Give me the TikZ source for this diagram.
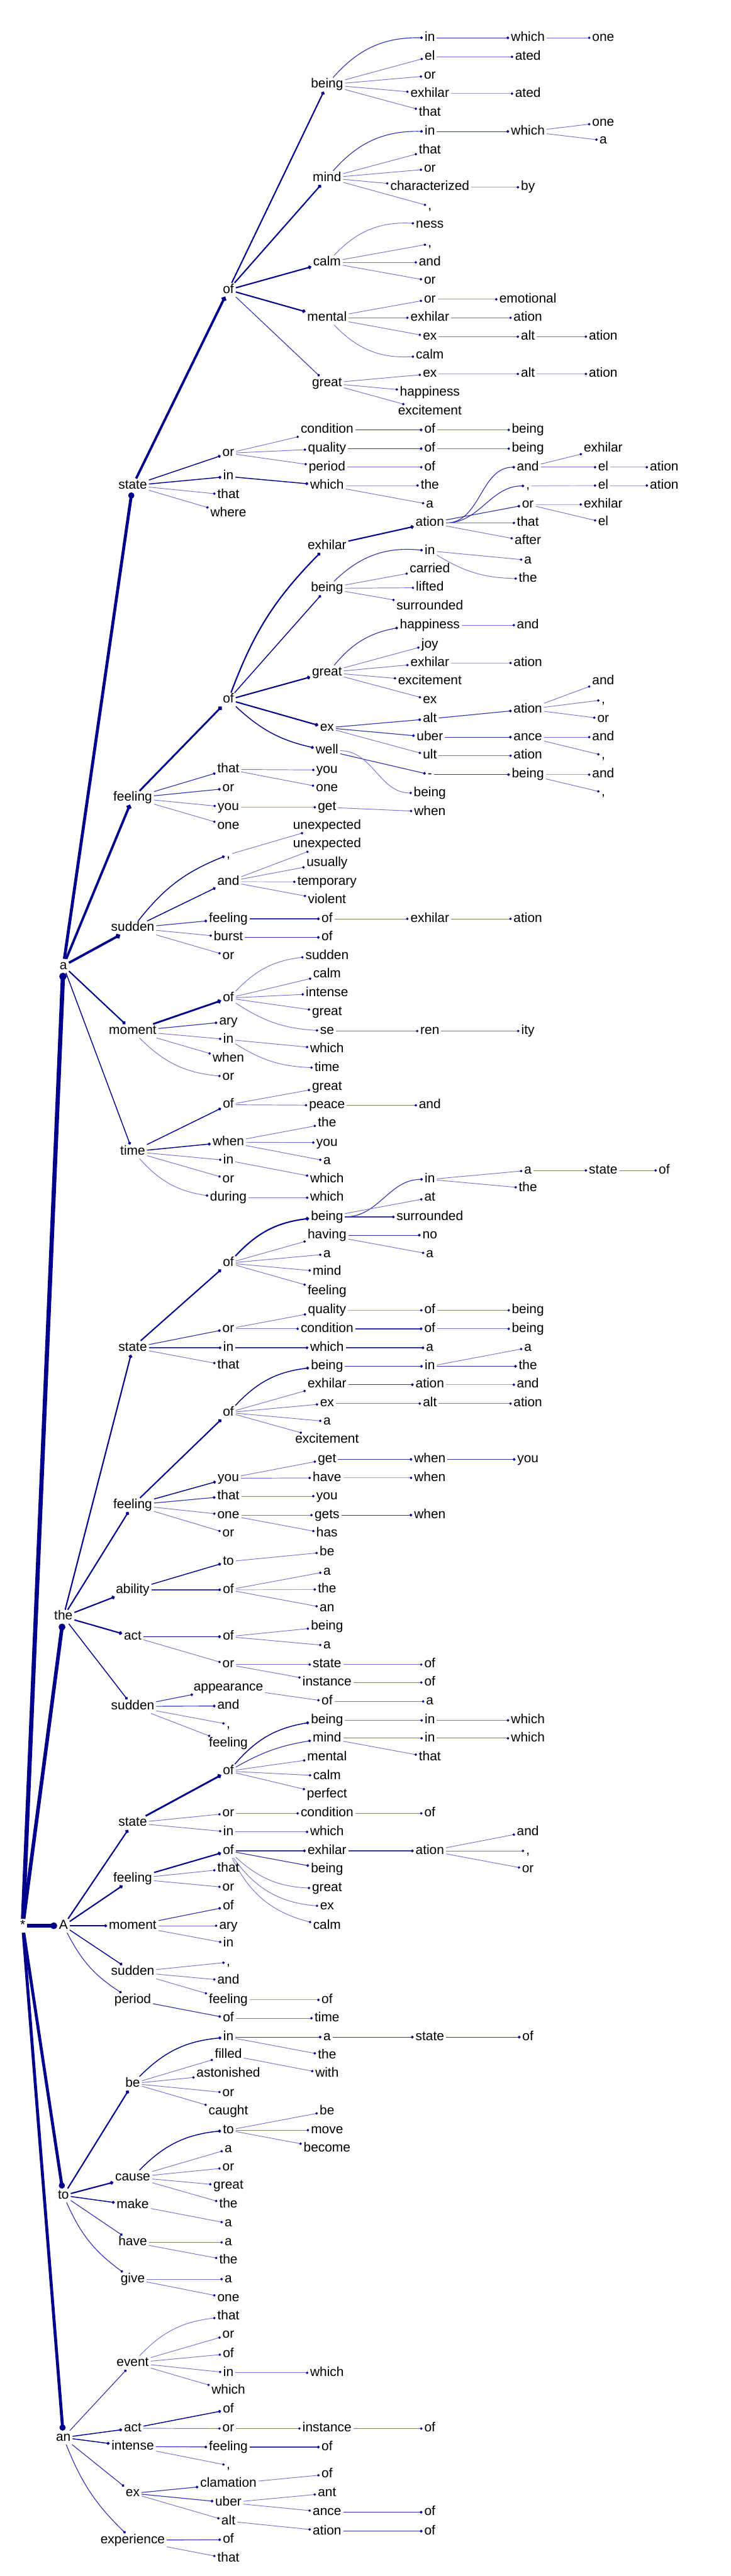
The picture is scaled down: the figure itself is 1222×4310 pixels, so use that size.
\documentclass[tikz,border=0pt]{standalone}
\usepackage{fontspec}
\setmainfont{Liberation Sans}
\usetikzlibrary{arrows.meta}
\definecolor{nv}{RGB}{0,0,139}
\definecolor{md}{RGB}{50,50,175}
\definecolor{lt}{RGB}{115,115,210}
\definecolor{llt}{RGB}{160,160,228}
\tikzset{
 wd/.style={font=\fontsize{22}{26}\selectfont, text height=16pt, text depth=5pt, inner xsep=3pt, inner ysep=1pt, anchor=center, text=black},
 Wseven/.style={line width=7pt, draw=nv, -{Circle[length=12pt,color=nv]}},
 Wsix/.style={line width=6pt, draw=nv, -{Circle[length=11pt,color=nv]}},
 Wfive/.style={line width=5pt, draw=nv, -{Circle[length=10pt,color=nv]}},
 Wfour/.style={line width=4pt, draw=nv, -{Circle[length=8pt,color=nv]}},
 Athree/.style={line width=3pt, draw=nv, -{Circle[length=7pt,color=nv]}},
 Atwo/.style={line width=2.2pt, draw=nv, -{Circle[length=6pt,color=nv]}},
 Aone/.style={line width=1.5pt, draw=nv, -{Circle[length=5pt,color=nv]}},
 B/.style={line width=1.2pt, draw=md, -{Circle[length=4.5pt,color=nv]}},
 C/.style={line width=1pt, draw=lt, -{Circle[length=4pt,color=nv]}},
 D/.style={line width=1pt, draw=llt, -{Circle[length=4pt,color=nv]}},
}
\newcommand\Nd[4]{\node[wd] (#1) at (#2,#3) {#4};}
\newcommand\Lk[3]{\draw[#1] (#2) -- (#3);}
\newcommand\Cv[4]{\draw[#1] (#2) to[#4] (#3);}
\begin{document}
\begin{tikzpicture}[x=1pt,y=-1pt]
\useasboundingbox (0,0) rectangle (1222,4310);
% root
\Nd{r}{38}{3222}{*}
\Nd{na}{106}{1616}{a}
\Nd{nthe}{106}{2705}{the}
\Nd{nA}{106}{3222}{A}
\Nd{nto}{106}{3673.3}{to}
\Nd{nan}{106}{4078.3}{an}
\Lk{Wseven}{r}{na}
\Lk{Wsix}{r}{nthe}
\Lk{Wsix}{r}{nA}
\Lk{Wfive}{r}{nto}
\Lk{Wfive}{r}{nan}
% ---- a
\Nd{s1}{222}{812.3}{state} \Lk{Wfive}{na}{s1}
\Nd{f1}{222}{1335}{feeling} \Lk{Wfour}{na}{f1}
\Nd{su}{222}{1552.7}{sudden} \Lk{Wfour}{na}{su}
\Nd{mo}{222}{1725}{moment} \Lk{Atwo}{na}{mo}
\Nd{ti}{222}{1926.7}{time} \Lk{Aone}{na}{ti}
% state
\Nd{s1o}{382}{485}{of} \Lk{Wfour}{s1}{s1o}
\Nd{s1ob}{547}{141.7}{being} \Lk{Atwo}{s1o}{s1ob}
\Nd{s1om}{547}{297.7}{mind} \Lk{Atwo}{s1o}{s1om}
\Nd{s1oc}{547}{439}{calm} \Lk{Atwo}{s1o}{s1oc}
\Nd{s1oe}{547}{531.7}{mental} \Lk{Atwo}{s1o}{s1oe}
\Nd{s1og}{547}{641}{great} \Lk{B}{s1o}{s1og}
\Nd{b1}{719}{63.3}{in} \Cv{B}{s1ob}{b1}{bend left=25}
\Nd{b1w}{883}{63.3}{which} \Lk{B}{b1}{b1w}
\Nd{b1wo}{1009}{63.3}{one} \Lk{C}{b1w}{b1wo}
\Nd{b2}{719}{95}{el} \Lk{C}{s1ob}{b2}
\Nd{b2a}{883}{95}{ated} \Lk{C}{b2}{b2a}
\Nd{b3}{719}{126.7}{or} \Lk{C}{s1ob}{b3}
\Nd{b4}{719}{156.7}{exhilar} \Lk{C}{s1ob}{b4}
\Nd{b4a}{883}{156.7}{ated} \Lk{D}{b4}{b4a}
\Nd{b5}{719}{188.3}{that} \Lk{C}{s1ob}{b5}
\Nd{m1}{719}{220}{in} \Cv{B}{s1om}{m1}{bend left=25}
\Nd{m1w}{883}{220}{which} \Lk{B}{m1}{m1w}
\Nd{m1wo}{1009}{205}{one} \Lk{C}{m1w}{m1wo}
\Nd{m1wa}{1009}{235}{a} \Lk{C}{m1w}{m1wa}
\Nd{m2}{719}{251.7}{that} \Lk{C}{s1om}{m2}
\Nd{m3}{719}{282.7}{or} \Lk{C}{s1om}{m3}
\Nd{m4}{719}{313.3}{characterized} \Lk{C}{s1om}{m4}
\Nd{m4b}{883}{313.3}{by} \Lk{D}{m4}{m4b}
\Nd{m5}{719}{345}{,} \Lk{C}{s1om}{m5}
\Nd{c1}{719}{376}{ness} \Cv{C}{s1oc}{c1}{bend left=25}
\Nd{c2}{719}{408}{,} \Lk{C}{s1oc}{c2}
\Nd{c3}{719}{439}{and} \Lk{C}{s1oc}{c3}
\Nd{c4}{719}{470}{or} \Lk{C}{s1oc}{c4}
\Nd{e1}{719}{500.7}{or} \Lk{C}{s1oe}{e1}
\Nd{e1e}{883}{500.7}{emotional} \Lk{D}{e1}{e1e}
\Nd{e2}{719}{531.7}{exhilar} \Lk{C}{s1oe}{e2}
\Nd{e2a}{883}{531.7}{ation} \Lk{C}{e2}{e2a}
\Nd{e3}{719}{563.3}{ex} \Lk{C}{s1oe}{e3}
\Nd{e3a}{883}{563.3}{alt} \Lk{C}{e3}{e3a}
\Nd{e3aa}{1009}{563.3}{ation} \Lk{C}{e3a}{e3aa}
\Nd{e4}{719}{594.3}{calm} \Cv{C}{s1oe}{e4}{bend right=25}
\Nd{g1}{719}{625.7}{ex} \Lk{C}{s1og}{g1}
\Nd{g1a}{883}{625.7}{alt} \Lk{D}{g1}{g1a}
\Nd{g1aa}{1009}{625.7}{ation} \Lk{D}{g1a}{g1aa}
\Nd{g2}{719}{656.7}{happiness} \Lk{C}{s1og}{g2}
\Nd{g3}{719}{688.3}{excitement} \Lk{C}{s1og}{g3}
\Nd{s1r}{382}{758.3}{or} \Lk{Aone}{s1}{s1r}
\Nd{r1}{547}{719.3}{condition} \Lk{C}{s1r}{r1}
\Nd{r1o}{719}{719.3}{of} \Lk{B}{r1}{r1o}
\Nd{r1ob}{883}{719.3}{being} \Lk{C}{r1o}{r1ob}
\Nd{r2}{547}{750.7}{quality} \Lk{C}{s1r}{r2}
\Nd{r2o}{719}{750.7}{of} \Lk{B}{r2}{r2o}
\Nd{r2ob}{883}{750.7}{being} \Lk{C}{r2o}{r2ob}
\Nd{r3}{547}{781.7}{period} \Lk{C}{s1r}{r3}
\Nd{r3o}{719}{781.7}{of} \Lk{C}{r3}{r3o}
\Nd{s1i}{382}{797.3}{in} \Lk{Aone}{s1}{s1i}
\Nd{s1iw}{547}{812.3}{which} \Lk{Aone}{s1i}{s1iw}
\Nd{s1iwt}{719}{812.3}{the} \Lk{D}{s1iw}{s1iwt}
\Nd{s1iwa}{719}{844}{a} \Lk{C}{s1iw}{s1iwa}
\Nd{s1t}{382}{828.3}{that} \Lk{C}{s1}{s1t}
\Nd{s1w}{382}{859.3}{where} \Lk{C}{s1}{s1w}
% feeling
\Nd{f1o}{382}{1170.7}{of} \Lk{Athree}{f1}{f1o}
\Nd{fx}{547}{913.3}{exhilar} \Cv{Atwo}{f1o}{fx}{bend left=12}
\Nd{fxa}{719}{875}{ation} \Lk{Atwo}{fx}{fxa}
\Nd{fxa1}{883}{781.7}{and} \Cv{B}{fxa}{fxa1}{out=0,in=180}
\Nd{fxa1e}{1009}{750.7}{exhilar} \Lk{C}{fxa1}{fxa1e}
\Nd{fxa1l}{1009}{781.7}{el} \Lk{C}{fxa1}{fxa1l}
\Nd{fxa1la}{1111}{781.7}{ation} \Lk{D}{fxa1l}{fxa1la}
\Nd{fxa2}{883}{813}{,} \Cv{B}{fxa}{fxa2}{out=0,in=180}
\Nd{fxa2l}{1009}{812.3}{el} \Lk{D}{fxa2}{fxa2l}
\Nd{fxa2la}{1111}{812.3}{ation} \Lk{D}{fxa2l}{fxa2la}
\Nd{fxa3}{883}{844}{or} \Lk{B}{fxa}{fxa3}
\Nd{fxa3e}{1009}{844}{exhilar} \Lk{D}{fxa3}{fxa3e}
\Nd{fxa3l}{1009}{874}{el} \Lk{C}{fxa3}{fxa3l}
\Nd{fxa4}{883}{875}{that} \Lk{C}{fxa}{fxa4}
\Nd{fxa5}{883}{905.7}{after} \Lk{C}{fxa}{fxa5}
\Nd{fb}{547}{984.3}{being} \Lk{Aone}{f1o}{fb}
\Nd{fb1}{719}{921.7}{in} \Cv{B}{fb}{fb1}{bend left=25}
\Nd{fb1a}{883}{937.3}{a} \Lk{C}{fb1}{fb1a}
\Nd{fb1t}{883}{968.3}{the} \Cv{C}{fb1}{fb1t}{bend right=15}
\Nd{fb2}{719}{952.7}{carried} \Lk{C}{fb}{fb2}
\Nd{fb3}{719}{983.3}{lifted} \Lk{C}{fb}{fb3}
\Nd{fb4}{719}{1014.3}{surrounded} \Lk{C}{fb}{fb4}
\Nd{fg}{547}{1125}{great} \Lk{Atwo}{f1o}{fg}
\Nd{fg1}{719}{1046}{happiness} \Cv{B}{fg}{fg1}{bend left=20}
\Nd{fg1a}{883}{1046}{and} \Lk{C}{fg1}{fg1a}
\Nd{fg2}{719}{1078.3}{joy} \Lk{C}{fg}{fg2}
\Nd{fg3}{719}{1109.3}{exhilar} \Lk{C}{fg}{fg3}
\Nd{fg3a}{883}{1109.3}{ation} \Lk{D}{fg3}{fg3a}
\Nd{fg4}{719}{1140}{excitement} \Lk{C}{fg}{fg4}
\Nd{fg5}{719}{1171}{ex} \Lk{C}{fg}{fg5}
\Nd{fe}{547}{1217.7}{ex} \Lk{Atwo}{f1o}{fe}
\Nd{fe1}{719}{1202.7}{alt} \Lk{B}{fe}{fe1}
\Nd{fe1a}{883}{1186.7}{ation} \Lk{B}{fe1}{fe1a}
\Nd{fe1a1}{1009}{1140}{and} \Lk{C}{fe1a}{fe1a1}
\Nd{fe1a2}{1009}{1171}{,} \Lk{C}{fe1a}{fe1a2}
\Nd{fe1a3}{1009}{1202.7}{or} \Lk{C}{fe1a}{fe1a3}
\Nd{fe2}{719}{1233.3}{uber} \Lk{B}{fe}{fe2}
\Nd{fe2a}{883}{1233.3}{ance} \Lk{B}{fe2}{fe2a}
\Nd{fe2a1}{1009}{1233.3}{and} \Lk{C}{fe2a}{fe2a1}
\Nd{fe2a2}{1009}{1264}{,} \Lk{C}{fe2a}{fe2a2}
\Nd{fe3}{719}{1264.3}{ult} \Lk{C}{fe}{fe3}
\Nd{fe3a}{883}{1264.3}{ation} \Lk{C}{fe3}{fe3a}
\Nd{fw}{547}{1256}{well} \Cv{Aone}{f1o}{fw}{bend right=15}
\Nd{fw1}{719}{1296}{-} \Lk{B}{fw}{fw1}
\Nd{fw1b}{883}{1296}{being} \Lk{B}{fw1}{fw1b}
\Nd{fw1b1}{1009}{1296}{and} \Lk{D}{fw1b}{fw1b1}
\Nd{fw1b2}{1009}{1326}{,} \Lk{C}{fw1b}{fw1b2}
\Nd{fw2}{719}{1326.7}{being} \Cv{C}{fw}{fw2}{out=0,in=180}
\Nd{f1t}{382}{1287.3}{that} \Lk{B}{f1}{f1t}
\Nd{f1ty}{547}{1288.3}{you} \Lk{C}{f1t}{f1ty}
\Nd{f1to}{547}{1319}{one} \Lk{C}{f1t}{f1to}
\Nd{f1r}{382}{1319}{or} \Lk{B}{f1}{f1r}
\Nd{f1y}{382}{1350.7}{you} \Lk{C}{f1}{f1y}
\Nd{f1yg}{547}{1350.7}{get} \Lk{D}{f1y}{f1yg}
\Nd{f1ygw}{719}{1358.3}{when} \Lk{C}{f1yg}{f1ygw}
\Nd{f1n}{382}{1381.7}{one} \Lk{C}{f1}{f1n}
% sudden
\Nd{su1}{382}{1430}{,} \Cv{Aone}{su}{su1}{bend left=15}
\Nd{su1u}{547}{1381.7}{unexpected} \Lk{C}{su1}{su1u}
\Nd{su2}{382}{1475}{and} \Lk{Aone}{su}{su2}
\Nd{su2u}{547}{1412.7}{unexpected} \Lk{C}{su2}{su2u}
\Nd{su2s}{547}{1443.7}{usually} \Lk{C}{su2}{su2s}
\Nd{su2t}{547}{1475.7}{temporary} \Lk{D}{su2}{su2t}
\Nd{su2v}{547}{1506}{violent} \Lk{C}{su2}{su2v}
\Nd{su3}{382}{1537.3}{feeling} \Lk{B}{su}{su3}
\Nd{su3o}{547}{1537.3}{of} \Lk{B}{su3}{su3o}
\Nd{su3ox}{719}{1537.3}{exhilar} \Lk{C}{su3o}{su3ox}
\Nd{su3oxa}{883}{1537.3}{ation} \Lk{C}{su3ox}{su3oxa}
\Nd{su4}{382}{1568.3}{burst} \Lk{C}{su}{su4}
\Nd{su4o}{547}{1568.3}{of} \Lk{B}{su4}{su4o}
\Nd{su5}{382}{1599.3}{or} \Lk{C}{su}{su5}
% moment
\Nd{mo1}{382}{1670}{of} \Lk{Athree}{mo}{mo1}
\Nd{mo1a}{547}{1599.3}{sudden} \Cv{C}{mo1}{mo1a}{bend left=20}
\Nd{mo1b}{547}{1630.7}{calm} \Lk{C}{mo1}{mo1b}
\Nd{mo1c}{547}{1661.7}{intense} \Lk{C}{mo1}{mo1c}
\Nd{mo1d}{547}{1693.3}{great} \Lk{C}{mo1}{mo1d}
\Nd{mo1e}{547}{1725}{se} \Cv{C}{mo1}{mo1e}{bend right=15}
\Nd{mo1er}{719}{1725}{ren} \Lk{C}{mo1e}{mo1er}
\Nd{mo1eri}{883}{1725}{ity} \Lk{C}{mo1er}{mo1eri}
\Nd{mo2}{382}{1709.3}{ary} \Lk{B}{mo}{mo2}
\Nd{mo3}{382}{1739.3}{in} \Lk{C}{mo}{mo3}
\Nd{mo3w}{547}{1755}{which} \Lk{C}{mo3}{mo3w}
\Nd{mo3t}{547}{1786.7}{time} \Cv{C}{mo3}{mo3t}{bend right=15}
\Nd{mo4}{382}{1771.7}{when} \Lk{C}{mo}{mo4}
\Nd{mo5}{382}{1801.7}{or} \Cv{C}{mo}{mo5}{bend right=20}
% time
\Nd{ti1}{382}{1848.3}{of} \Lk{Aone}{ti}{ti1}
\Nd{ti1g}{547}{1818.3}{great} \Lk{C}{ti1}{ti1g}
\Nd{ti1p}{547}{1849.3}{peace} \Lk{C}{ti1}{ti1p}
\Nd{ti1pa}{719}{1849.3}{and} \Lk{C}{ti1p}{ti1pa}
\Nd{ti2}{382}{1911}{when} \Lk{Aone}{ti}{ti2}
\Nd{ti2t}{547}{1880}{the} \Lk{C}{ti2}{ti2t}
\Nd{ti2y}{547}{1911.7}{you} \Lk{C}{ti2}{ti2y}
\Nd{ti2a}{547}{1942.7}{a} \Lk{C}{ti2}{ti2a}
\Nd{ti3}{382}{1941.7}{in} \Lk{C}{ti}{ti3}
\Nd{ti3w}{547}{1973.3}{which} \Lk{C}{ti3}{ti3w}
\Nd{ti4}{382}{1972.7}{or} \Lk{C}{ti}{ti4}
\Nd{ti5}{382}{2004}{during} \Cv{C}{ti}{ti5}{bend right=20}
\Nd{ti5w}{547}{2004}{which} \Lk{C}{ti5}{ti5w}
% ---- the
\Nd{ts}{222}{2255}{state} \Lk{Atwo}{nthe}{ts}
\Nd{tf}{222}{2518}{feeling} \Lk{Atwo}{nthe}{tf}
\Nd{tab}{222}{2660}{ability} \Lk{Atwo}{nthe}{tab}
\Nd{tac}{222}{2738.3}{act} \Lk{Atwo}{nthe}{tac}
\Nd{tsu}{222}{2855}{sudden} \Lk{Aone}{nthe}{tsu}
\Nd{ts1}{382}{2113.3}{of} \Lk{Atwo}{ts}{ts1}
\Nd{ts1b}{547}{2036}{being} \Cv{Atwo}{ts1}{ts1b}{bend left=20}
\Nd{ts1bi}{719}{1973.3}{in} \Cv{B}{ts1b}{ts1bi}{out=0,in=180}
\Nd{ts1bia}{883}{1958.3}{a} \Lk{C}{ts1bi}{ts1bia}
\Nd{ts1bias}{1009}{1958.3}{state} \Lk{C}{ts1bia}{ts1bias}
\Nd{ts1biaso}{1111}{1958.3}{of} \Lk{C}{ts1bias}{ts1biaso}
\Nd{ts1bit}{883}{1988.3}{the} \Lk{C}{ts1bi}{ts1bit}
\Nd{ts1ba}{719}{2004}{at} \Lk{C}{ts1b}{ts1ba}
\Nd{ts1bs}{719}{2036}{surrounded} \Lk{B}{ts1b}{ts1bs}
\Nd{ts1h}{547}{2066.7}{having} \Lk{C}{ts1}{ts1h}
\Nd{ts1hn}{719}{2066.7}{no} \Lk{B}{ts1h}{ts1hn}
\Nd{ts1ha}{719}{2098.3}{a} \Lk{C}{ts1h}{ts1ha}
\Nd{ts1a}{547}{2098.3}{a} \Lk{C}{ts1}{ts1a}
\Nd{ts1m}{547}{2128.3}{mind} \Lk{C}{ts1}{ts1m}
\Nd{ts1f}{547}{2160}{feeling} \Lk{C}{ts1}{ts1f}
\Nd{ts2}{382}{2223.3}{or} \Lk{B}{ts}{ts2}
\Nd{ts2q}{547}{2192.3}{quality} \Lk{C}{ts2}{ts2q}
\Nd{ts2qo}{719}{2192.3}{of} \Lk{D}{ts2q}{ts2qo}
\Nd{ts2qob}{883}{2192.3}{being} \Lk{C}{ts2qo}{ts2qob}
\Nd{ts2c}{547}{2223.3}{condition} \Lk{C}{ts2}{ts2c}
\Nd{ts2co}{719}{2223.3}{of} \Lk{B}{ts2c}{ts2co}
\Nd{ts2cob}{883}{2223.3}{being} \Lk{C}{ts2co}{ts2cob}
\Nd{ts3}{382}{2255}{in} \Lk{B}{ts}{ts3}
\Nd{ts3w}{547}{2255}{which} \Lk{B}{ts3}{ts3w}
\Nd{ts3wa}{719}{2255}{a} \Lk{B}{ts3w}{ts3wa}
\Nd{ts4}{382}{2285}{that} \Lk{C}{ts}{ts4}
\Nd{tf1}{382}{2363.3}{of} \Lk{Atwo}{tf}{tf1}
\Nd{tf1b}{547}{2286}{being} \Cv{Aone}{tf1}{tf1b}{bend left=20}
\Nd{tf1bi}{719}{2286}{in} \Lk{B}{tf1b}{tf1bi}
\Nd{tf1bia}{883}{2255}{a} \Lk{C}{tf1bi}{tf1bia}
\Nd{tf1bit}{883}{2286}{the} \Lk{B}{tf1bi}{tf1bit}
\Nd{tf1x}{547}{2316.7}{exhilar} \Lk{C}{tf1}{tf1x}
\Nd{tf1xa}{719}{2316.7}{ation} \Lk{B}{tf1x}{tf1xa}
\Nd{tf1xaa}{883}{2316.7}{and} \Lk{D}{tf1xa}{tf1xaa}
\Nd{tf1e}{547}{2348.3}{ex} \Lk{C}{tf1}{tf1e}
\Nd{tf1ea}{719}{2348.3}{alt} \Lk{C}{tf1e}{tf1ea}
\Nd{tf1eaa}{883}{2348.3}{ation} \Lk{C}{tf1ea}{tf1eaa}
\Nd{tf1a}{547}{2378.3}{a} \Lk{C}{tf1}{tf1a}
\Nd{tf1c}{547}{2409.3}{excitement} \Lk{C}{tf1}{tf1c}
\Nd{tf2}{382}{2473.3}{you} \Lk{Aone}{tf}{tf2}
\Nd{tf2g}{547}{2441.7}{get} \Lk{C}{tf2}{tf2g}
\Nd{tf2gw}{719}{2441.7}{when} \Lk{B}{tf2g}{tf2gw}
\Nd{tf2gwy}{883}{2441.7}{you} \Lk{B}{tf2gw}{tf2gwy}
\Nd{tf2h}{547}{2472.7}{have} \Lk{C}{tf2}{tf2h}
\Nd{tf2hw}{719}{2472.7}{when} \Lk{D}{tf2h}{tf2hw}
\Nd{tf3}{382}{2503.3}{that} \Lk{B}{tf}{tf3}
\Nd{tf3y}{547}{2503.3}{you} \Lk{C}{tf3}{tf3y}
\Nd{tf4}{382}{2535}{one} \Lk{C}{tf}{tf4}
\Nd{tf4g}{547}{2535}{gets} \Lk{C}{tf4}{tf4g}
\Nd{tf4gw}{719}{2535}{when} \Lk{B}{tf4g}{tf4gw}
\Nd{tf4h}{547}{2566}{has} \Lk{C}{tf4}{tf4h}
\Nd{tf5}{382}{2566}{or} \Lk{C}{tf}{tf5}
\Nd{ta1}{382}{2612.7}{to} \Lk{Aone}{tab}{ta1}
\Nd{ta1b}{547}{2596.7}{be} \Lk{C}{ta1}{ta1b}
\Nd{ta2}{382}{2660}{of} \Lk{B}{tab}{ta2}
\Nd{ta2a}{547}{2629.3}{a} \Lk{C}{ta2}{ta2a}
\Nd{ta2t}{547}{2659.3}{the} \Lk{D}{ta2}{ta2t}
\Nd{ta2n}{547}{2690.7}{an} \Lk{C}{ta2}{ta2n}
\Nd{tc1}{382}{2738.3}{of} \Lk{Aone}{tac}{tc1}
\Nd{tc1b}{547}{2721.7}{being} \Lk{C}{tc1}{tc1b}
\Nd{tc1a}{547}{2753.3}{a} \Lk{C}{tc1}{tc1a}
\Nd{tc2}{382}{2785}{or} \Lk{C}{tac}{tc2}
\Nd{tc2s}{547}{2785}{state} \Lk{C}{tc2}{tc2s}
\Nd{tc2so}{719}{2785}{of} \Lk{C}{tc2s}{tc2so}
\Nd{tc2i}{547}{2815}{instance} \Lk{C}{tc2}{tc2i}
\Nd{tc2io}{719}{2815}{of} \Lk{C}{tc2i}{tc2io}
\Nd{tu1}{382}{2823.3}{appearance} \Lk{B}{tsu}{tu1}
\Nd{tu1o}{547}{2846.7}{of} \Lk{C}{tu1}{tu1o}
\Nd{tu1oa}{719}{2846.7}{a} \Lk{C}{tu1o}{tu1oa}
\Nd{tu2}{382}{2854.3}{and} \Lk{B}{tsu}{tu2}
\Nd{tu3}{382}{2885}{,} \Lk{C}{tsu}{tu3}
\Nd{tu4}{382}{2916.7}{feeling} \Lk{C}{tsu}{tu4}
% ---- A
\Nd{As}{222}{3050}{state} \Lk{Atwo}{nA}{As}
\Nd{Af}{222}{3143.3}{feeling} \Lk{Atwo}{nA}{Af}
\Nd{Am}{222}{3222}{moment} \Lk{Aone}{nA}{Am}
\Nd{Asu}{222}{3299.3}{sudden} \Lk{Aone}{nA}{Asu}
\Nd{Ap}{222}{3346}{period} \Cv{B}{nA}{Ap}{bend right=15}
\Nd{As1}{382}{2963.3}{of} \Lk{Athree}{As}{As1}
\Nd{As1b}{547}{2878.3}{being} \Cv{Aone}{As1}{As1b}{bend left=20}
\Nd{As1bi}{719}{2878.3}{in} \Lk{C}{As1b}{As1bi}
\Nd{As1biw}{883}{2878.3}{which} \Lk{C}{As1bi}{As1biw}
\Nd{As1m}{547}{2908.3}{mind} \Cv{B}{As1}{As1m}{bend left=10}
\Nd{As1mi}{719}{2908.3}{in} \Lk{C}{As1m}{As1mi}
\Nd{As1miw}{883}{2908.3}{which} \Lk{C}{As1mi}{As1miw}
\Nd{As1mt}{719}{2940}{that} \Lk{C}{As1m}{As1mt}
\Nd{As1e}{547}{2940}{mental} \Lk{C}{As1}{As1e}
\Nd{As1c}{547}{2971.7}{calm} \Lk{C}{As1}{As1c}
\Nd{As1p}{547}{3002.7}{perfect} \Lk{C}{As1}{As1p}
\Nd{As2}{382}{3034}{or} \Lk{C}{As}{As2}
\Nd{As2c}{547}{3034}{condition} \Lk{C}{As2}{As2c}
\Nd{As2co}{719}{3034}{of} \Lk{C}{As2c}{As2co}
\Nd{As3}{382}{3065}{in} \Lk{C}{As}{As3}
\Nd{As3w}{547}{3065}{which} \Lk{C}{As3}{As3w}
\Nd{Af1}{382}{3096.7}{of} \Lk{Atwo}{Af}{Af1}
\Nd{Af1x}{547}{3096.7}{exhilar} \Lk{B}{Af1}{Af1x}
\Nd{Af1xa}{719}{3096.7}{ation} \Lk{B}{Af1x}{Af1xa}
\Nd{Af1xa1}{883}{3065}{and} \Lk{C}{Af1xa}{Af1xa1}
\Nd{Af1xa2}{883}{3096.7}{,} \Lk{C}{Af1xa}{Af1xa2}
\Nd{Af1xa3}{883}{3127.3}{or} \Lk{C}{Af1xa}{Af1xa3}
\Nd{Af1b}{547}{3127.3}{being} \Lk{B}{Af1}{Af1b}
\Nd{Af1g}{547}{3159.3}{great} \Cv{C}{Af1}{Af1g}{bend right=20}
\Nd{Af1e}{547}{3190}{ex} \Cv{C}{Af1}{Af1e}{bend right=25}
\Nd{Af1c}{547}{3222}{calm} \Cv{C}{Af1}{Af1c}{bend right=25}
\Nd{Af2}{382}{3126.7}{that} \Lk{C}{Af}{Af2}
\Nd{Af3}{382}{3158.3}{or} \Lk{C}{Af}{Af3}
\Nd{Am1}{382}{3190}{of} \Lk{B}{Am}{Am1}
\Nd{Am2}{382}{3222}{ary} \Lk{C}{Am}{Am2}
\Nd{Am3}{382}{3251.7}{in} \Lk{C}{Am}{Am3}
\Nd{Asu1}{382}{3283}{,} \Lk{C}{Asu}{Asu1}
\Nd{Asu2}{382}{3314}{and} \Lk{C}{Asu}{Asu2}
\Nd{Asu3}{382}{3346}{feeling} \Lk{C}{Asu}{Asu3}
\Nd{Asu3o}{547}{3346}{of} \Lk{D}{Asu3}{Asu3o}
\Nd{Ap1}{382}{3376.7}{of} \Lk{B}{Ap}{Ap1}
\Nd{Ap1t}{547}{3376.7}{time} \Lk{C}{Ap1}{Ap1t}
% ---- to
\Nd{Tb}{222}{3486}{be} \Lk{Atwo}{nto}{Tb}
\Nd{Tc}{222}{3642.7}{cause} \Lk{Atwo}{nto}{Tc}
\Nd{Tm}{222}{3689.3}{make} \Lk{Aone}{nto}{Tm}
\Nd{Th}{222}{3751.7}{have} \Lk{B}{nto}{Th}
\Nd{Tg}{222}{3813.3}{give} \Cv{B}{nto}{Tg}{bend right=15}
\Nd{Tb1}{382}{3408.3}{in} \Cv{Aone}{Tb}{Tb1}{bend left=20}
\Nd{Tb1a}{547}{3408.3}{a} \Lk{B}{Tb1}{Tb1a}
\Nd{Tb1as}{719}{3408.3}{state} \Lk{B}{Tb1a}{Tb1as}
\Nd{Tb1aso}{883}{3408.3}{of} \Lk{B}{Tb1as}{Tb1aso}
\Nd{Tb1t}{547}{3439.3}{the} \Lk{C}{Tb1}{Tb1t}
\Nd{Tb2}{382}{3438.3}{filled} \Lk{C}{Tb}{Tb2}
\Nd{Tb2w}{547}{3470}{with} \Lk{C}{Tb2}{Tb2w}
\Nd{Tb3}{382}{3470}{astonished} \Lk{C}{Tb}{Tb3}
\Nd{Tb4}{382}{3501.7}{or} \Lk{C}{Tb}{Tb4}
\Nd{Tb5}{382}{3532.7}{caught} \Lk{C}{Tb}{Tb5}
\Nd{Tc1}{382}{3564}{to} \Cv{Aone}{Tc}{Tc1}{bend left=20}
\Nd{Tc1b}{547}{3532.7}{be} \Lk{C}{Tc1}{Tc1b}
\Nd{Tc1m}{547}{3564}{move} \Lk{C}{Tc1}{Tc1m}
\Nd{Tc1c}{547}{3595}{become} \Lk{C}{Tc1}{Tc1c}
\Nd{Tc2}{382}{3596}{a} \Lk{C}{Tc}{Tc2}
\Nd{Tc3}{382}{3626.7}{or} \Lk{C}{Tc}{Tc3}
\Nd{Tc4}{382}{3657.3}{great} \Lk{C}{Tc}{Tc4}
\Nd{Tc5}{382}{3688.3}{the} \Lk{C}{Tc}{Tc5}
\Nd{Tm1}{382}{3720}{a} \Lk{C}{Tm}{Tm1}
\Nd{Th1}{382}{3751.7}{a} \Lk{C}{Th}{Th1}
\Nd{Th2}{382}{3781.7}{the} \Lk{C}{Th}{Th2}
\Nd{Tg1}{382}{3813.3}{a} \Lk{C}{Tg}{Tg1}
\Nd{Tg2}{382}{3845}{one} \Lk{C}{Tg}{Tg2}
% ---- an
\Nd{Ne}{222}{3953.3}{event} \Lk{B}{nan}{Ne}
\Nd{Na}{222}{4062.7}{act} \Lk{Aone}{nan}{Na}
\Nd{Ni}{222}{4093.3}{intense} \Lk{Aone}{nan}{Ni}
\Nd{Nx}{222}{4171.7}{ex} \Lk{B}{nan}{Nx}
\Nd{Np}{222}{4250}{experience} \Cv{B}{nan}{Np}{bend right=12}
\Nd{Ne1}{382}{3876}{that} \Cv{C}{Ne}{Ne1}{bend left=20}
\Nd{Ne2}{382}{3906.7}{or} \Lk{C}{Ne}{Ne2}
\Nd{Ne3}{382}{3938.3}{of} \Lk{C}{Ne}{Ne3}
\Nd{Ne4}{382}{3970}{in} \Lk{C}{Ne}{Ne4}
\Nd{Ne4w}{547}{3970}{which} \Lk{C}{Ne4}{Ne4w}
\Nd{Ne5}{382}{4000}{which} \Lk{C}{Ne}{Ne5}
\Nd{Na1}{382}{4031.7}{of} \Lk{Aone}{Na}{Na1}
\Nd{Na2}{382}{4063.3}{or} \Lk{C}{Na}{Na2}
\Nd{Na2i}{547}{4063.3}{instance} \Lk{C}{Na2}{Na2i}
\Nd{Na2io}{719}{4063.3}{of} \Lk{C}{Na2i}{Na2io}
\Nd{Ni1}{382}{4094.3}{feeling} \Lk{B}{Ni}{Ni1}
\Nd{Ni1o}{547}{4094.3}{of} \Lk{B}{Ni1}{Ni1o}
\Nd{Ni2}{382}{4125}{,} \Lk{C}{Ni}{Ni2}
\Nd{Nx1}{382}{4156}{clamation} \Lk{B}{Nx}{Nx1}
\Nd{Nx1o}{547}{4140}{of} \Lk{C}{Nx1}{Nx1o}
\Nd{Nx2}{382}{4187.3}{uber} \Lk{B}{Nx}{Nx2}
\Nd{Nx2a}{547}{4171.7}{ant} \Lk{C}{Nx2}{Nx2a}
\Nd{Nx2b}{547}{4203.3}{ance} \Lk{C}{Nx2}{Nx2b}
\Nd{Nx2bo}{719}{4203.3}{of} \Lk{B}{Nx2b}{Nx2bo}
\Nd{Nx3}{382}{4218.3}{alt} \Lk{C}{Nx}{Nx3}
\Nd{Nx3a}{547}{4235}{ation} \Lk{C}{Nx3}{Nx3a}
\Nd{Nx3ao}{719}{4235}{of} \Lk{B}{Nx3a}{Nx3ao}
\Nd{Np1}{382}{4249.3}{of} \Lk{B}{Np}{Np1}
\Nd{Np2}{382}{4281}{that} \Lk{C}{Np}{Np2}
\end{tikzpicture}
\end{document}
